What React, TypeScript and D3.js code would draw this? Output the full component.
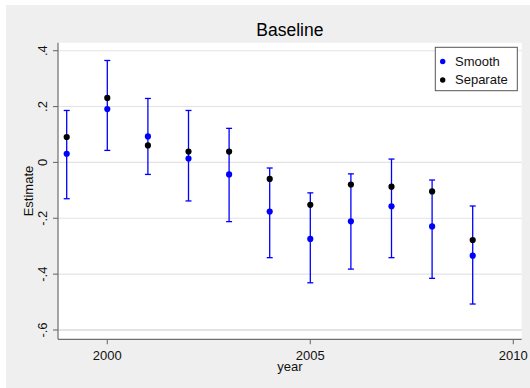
import * as d3 from "d3";

const years = [1999, 2000, 2001, 2002, 2003, 2004, 2005, 2006, 2007, 2008, 2009];
const smooth = [0.031, 0.191, 0.093, 0.014, -0.043, -0.176, -0.274, -0.211, -0.157, -0.229, -0.334];
const separate = [0.091, 0.231, 0.061, 0.039, 0.039, -0.059, -0.152, -0.079, -0.087, -0.104, -0.278];
const ciHigh = [0.186, 0.365, 0.229, 0.186, 0.122, -0.02, -0.109, -0.041, 0.012, -0.063, -0.156];
const ciLow = [-0.13, 0.043, -0.043, -0.138, -0.212, -0.341, -0.431, -0.382, -0.341, -0.415, -0.507];

const yTicks = [0.4, 0.2, 0, -0.2, -0.4, -0.6];
const yTickLabels = [".4", ".2", "0", "-.2", "-.4", "-.6"];
const xTicks = [2000, 2005, 2010];

const legendItems = [
  { label: "Smooth", color: "#0000ff" },
  { label: "Separate", color: "#000000" },
];

const W = 530;
const H = 388;
const plot = { left: 58, right: 521.7, top: 42.8, bottom: 339.3 };
const font = "'Liberation Sans', Arial, Helvetica, sans-serif";

export default function App() {
  const x = d3.scaleLinear().domain([2000, 2010]).range([107.3, 513.3]);
  const y = d3.scaleLinear().domain([-0.6, 0.4]).range([330, 50.7]);
  const cap = 3;

  return (
    <div style={{ position: "absolute", left: 0, top: 0 }}>
      <svg width={W} height={H} viewBox={`0 0 ${W} ${H}`} style={{ display: "block" }}>
        <rect x={0} y={0} width={W} height={H} fill="#ffffff" />
        <rect x={6} y={5} width={W - 6} height={H - 5} fill="#efefef" />
        <rect
          x={plot.left}
          y={plot.top}
          width={plot.right - plot.left}
          height={plot.bottom - plot.top}
          fill="#ffffff"
        />

        {/* grid */}
        {yTicks.map((t) => (
          <line
            key={"g" + t}
            x1={plot.left}
            x2={plot.right}
            y1={y(t)}
            y2={y(t)}
            stroke="#e3e3e3"
            strokeWidth={t === -0.6 ? 2.2 : 1.1}
          />
        ))}

        {/* y axis */}
        <line x1={plot.left} x2={plot.left} y1={plot.top} y2={plot.bottom} stroke="#6e6e6e" strokeWidth={1.2} />
        {yTicks.map((t, i) => (
          <g key={"y" + t}>
            <line x1={plot.left - 5} x2={plot.left} y1={y(t)} y2={y(t)} stroke="#6e6e6e" strokeWidth={1.1} />
            <text
              transform={`translate(47,${y(t)}) rotate(-90)`}
              textAnchor="middle"
              fontFamily={font}
              fontSize={13}
              fill="#111"
            >
              {yTickLabels[i]}
            </text>
          </g>
        ))}
        <text
          transform={`translate(33,${(plot.top + plot.bottom) / 2}) rotate(-90)`}
          textAnchor="middle"
          fontFamily={font}
          fontSize={13}
          fill="#111"
        >
          Estimate
        </text>

        {/* x axis */}
        <line x1={plot.left} x2={plot.right} y1={plot.bottom} y2={plot.bottom} stroke="#6e6e6e" strokeWidth={1.2} />
        {xTicks.map((t) => (
          <g key={"x" + t}>
            <line x1={x(t)} x2={x(t)} y1={plot.bottom} y2={plot.bottom + 5} stroke="#6e6e6e" strokeWidth={1.1} />
            <text x={x(t)} y={360} textAnchor="middle" fontFamily={font} fontSize={13} fill="#111">
              {t}
            </text>
          </g>
        ))}
        <text x={(plot.left + plot.right) / 2} y={370.5} textAnchor="middle" fontFamily={font} fontSize={13} fill="#111">
          year
        </text>

        {/* title */}
        <text x={(plot.left + plot.right) / 2} y={35.5} textAnchor="middle" fontFamily={font} fontSize={17.5} fill="#000">
          Baseline
        </text>

        {/* confidence intervals */}
        {years.map((yr, i) => (
          <g key={"ci" + yr} stroke="#0000ff" strokeWidth={1.3}>
            <line x1={x(yr)} x2={x(yr)} y1={y(ciHigh[i])} y2={y(ciLow[i])} />
            <line x1={x(yr) - cap} x2={x(yr) + cap} y1={y(ciHigh[i])} y2={y(ciHigh[i])} />
            <line x1={x(yr) - cap} x2={x(yr) + cap} y1={y(ciLow[i])} y2={y(ciLow[i])} />
          </g>
        ))}

        {/* points */}
        {years.map((yr, i) => (
          <circle key={"s" + yr} cx={x(yr)} cy={y(separate[i])} r={3.1} fill="#000000" />
        ))}
        {years.map((yr, i) => (
          <circle key={"m" + yr} cx={x(yr)} cy={y(smooth[i])} r={3.1} fill="#0000ff" />
        ))}

        {/* legend */}
        <rect x={435.3} y={47.3} width={82} height={43.4} fill="#ffffff" stroke="#555" strokeWidth={1} />
        {legendItems.map((d, i) => (
          <g key={d.label}>
            <circle cx={442.7} cy={61.5 + i * 18.5} r={2.7} fill={d.color} />
            <text x={455} y={65.8 + i * 18.5} fontFamily={font} fontSize={13} fill="#111">
              {d.label}
            </text>
          </g>
        ))}
      </svg>
    </div>
  );
}
